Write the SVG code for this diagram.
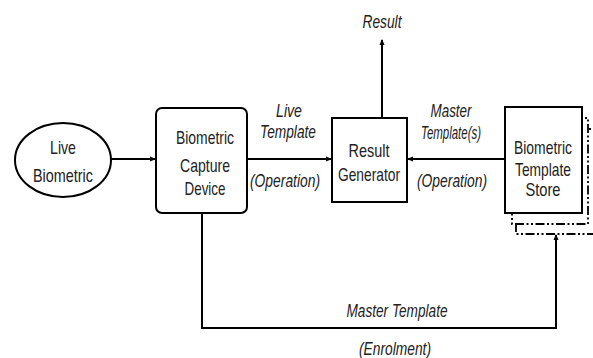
<svg xmlns="http://www.w3.org/2000/svg" width="593" height="358" viewBox="0 0 593 358">
<defs>
<marker id="arr" markerWidth="6" markerHeight="6" refX="5" refY="3" orient="auto" markerUnits="userSpaceOnUse">
<path d="M0,0.5 L6,3 L0,5.5 Z" fill="#000"/>
</marker>
<style>
.box{fill:#fff;stroke:#000;stroke-width:2}
.dd{fill:#fff;stroke:#000;stroke-width:1.8;stroke-dasharray:9 2.5 2 2.5 2 2.5}
.ln{fill:none;stroke:#000;stroke-width:2}
text{font-family:"Liberation Sans",Arial,sans-serif;font-size:18.5px;fill:#222;text-anchor:middle}
.it{font-style:italic;font-size:17.5px}
</style>
</defs>
<rect width="593" height="358" fill="#fff"/>
<g id="connectors">
<line class="ln" x1="111" y1="159" x2="155" y2="159" marker-end="url(#arr)"/>
<line class="ln" x1="247" y1="159" x2="331" y2="159" marker-end="url(#arr)"/>
<line class="ln" x1="505" y1="159" x2="408" y2="159" marker-end="url(#arr)"/>
<line class="ln" x1="382" y1="118" x2="382" y2="40" marker-end="url(#arr)"/>
<polyline class="ln" points="202,213 202,328 556,328 556,235" marker-end="url(#arr)"/>
<text class="it" x="289" y="117" textLength="26" lengthAdjust="spacingAndGlyphs">Live</text>
<text class="it" x="288" y="138" textLength="56" lengthAdjust="spacingAndGlyphs">Template</text>
<text class="it" x="285" y="187" textLength="70" lengthAdjust="spacingAndGlyphs">(Operation)</text>
<text class="it" x="451" y="117" textLength="41" lengthAdjust="spacingAndGlyphs">Master</text>
<text class="it" x="451" y="139" textLength="60" lengthAdjust="spacingAndGlyphs">Template(s)</text>
<text class="it" x="452" y="187" textLength="70" lengthAdjust="spacingAndGlyphs">(Operation)</text>
<text class="it" x="382" y="28" textLength="39" lengthAdjust="spacingAndGlyphs">Result</text>
<text class="it" x="397" y="317" textLength="101" lengthAdjust="spacingAndGlyphs">Master Template</text>
<text class="it" x="395" y="355" textLength="72" lengthAdjust="spacingAndGlyphs">(Enrolment)</text>
</g>
<g id="live-biometric">
<ellipse class="box" cx="63" cy="160" rx="48" ry="37"/>
<text x="63" y="154" textLength="26" lengthAdjust="spacingAndGlyphs">Live</text>
<text x="63" y="182" textLength="60" lengthAdjust="spacingAndGlyphs">Biometric</text>
</g>
<g id="capture-device">
<rect class="box" x="156" y="108" width="91" height="105" rx="6"/>
<text x="205" y="144" textLength="58" lengthAdjust="spacingAndGlyphs">Biometric</text>
<text x="205" y="172" textLength="50" lengthAdjust="spacingAndGlyphs">Capture</text>
<text x="205" y="195" textLength="41" lengthAdjust="spacingAndGlyphs">Device</text>
</g>
<g id="result-generator">
<rect class="box" x="332" y="118" width="75" height="84"/>
<text x="369" y="157" textLength="41" lengthAdjust="spacingAndGlyphs">Result</text>
<text x="369" y="181" textLength="62" lengthAdjust="spacingAndGlyphs">Generator</text>
</g>
<g id="template-store">
<rect class="dd" x="516" y="129" width="90" height="105"/>
<rect class="dd" x="512" y="118" width="76" height="106"/>
<rect class="box" x="505" y="107" width="77" height="106"/>
<text x="543" y="154" textLength="58" lengthAdjust="spacingAndGlyphs">Biometric</text>
<text x="543" y="176" textLength="56" lengthAdjust="spacingAndGlyphs">Template</text>
<text x="543" y="196" textLength="35" lengthAdjust="spacingAndGlyphs">Store</text>
</g>
</svg>
